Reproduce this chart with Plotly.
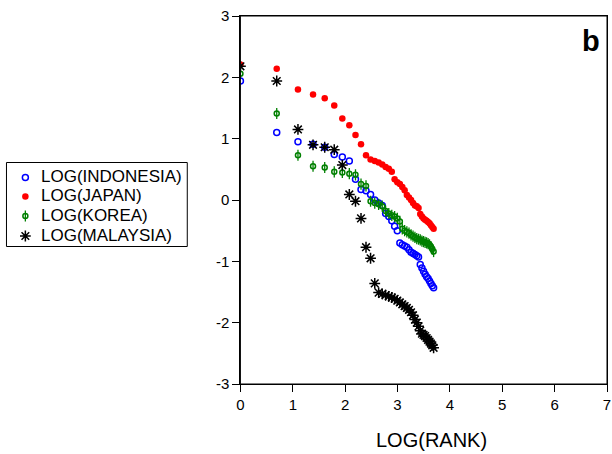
import numpy as np
import plotly.graph_objects as go

ranks = list(range(1, 41))

indonesia = [1.94, 1.10, 0.95, 0.91, 0.86, 0.74, 0.70, 0.635, 0.34, 0.17,
             0.15, 0.09, 0.00, -0.05, -0.09, -0.22, -0.27, -0.34, -0.43, -0.50,
             -0.70, -0.73, -0.75, -0.77, -0.81, -0.85, -0.87, -0.89, -0.91, -0.93,
             -1.05, -1.11, -1.16, -1.21, -1.25, -1.28, -1.32, -1.36, -1.40, -1.43]

japan = [2.21, 2.14, 1.80, 1.72, 1.66, 1.54, 1.33, 1.22, 1.06, 0.91,
         0.73, 0.66, 0.635, 0.61, 0.58, 0.54, 0.51, 0.46, 0.34, 0.29,
         0.26, 0.21, 0.16, 0.08, 0.04, 0.00, -0.05, -0.09, -0.10, -0.13,
         -0.23, -0.27, -0.30, -0.32, -0.34, -0.36, -0.38, -0.41, -0.44, -0.47]

korea = [2.06, 1.41, 0.73, 0.55, 0.53, 0.46, 0.45, 0.43, 0.41, 0.26,
         0.23, -0.02, -0.05, -0.07, -0.10, -0.18, -0.22, -0.25, -0.27, -0.30,
         -0.35, -0.47, -0.50, -0.52, -0.54, -0.57, -0.59, -0.61, -0.63, -0.64,
         -0.65, -0.67, -0.68, -0.69, -0.70, -0.71, -0.73, -0.76, -0.80, -0.84]

malaysia = [2.18, 1.94, 1.15, 0.90, 0.86, 0.82, 0.57, 0.09, -0.02, -0.30,
            -0.77, -0.95, -1.36, -1.51, -1.53, -1.55, -1.57, -1.59, -1.61, -1.64,
            -1.67, -1.70, -1.73, -1.76, -1.79, -1.83, -1.88, -1.95, -2.00, -2.06,
            -2.13, -2.18, -2.20, -2.22, -2.25, -2.28, -2.31, -2.34, -2.37, -2.41]

series_names = ["LOG(INDONESIA)", "LOG(JAPAN)", "LOG(KOREA)", "LOG(MALAYSIA)"]

x_ticks = [0, 1, 2, 3, 4, 5, 6, 7]
y_ticks = [-3, -2, -1, 0, 1, 2, 3]

x = np.log(np.array(ranks, dtype=float))

FONT = "Liberation Sans, Arial, sans-serif"

W, H = 612, 454
ML, MR, MT, MB = 0, 5, 16, 70
PLOT_LEFT = 238  # pixel where main plot starts
PAPER_W = W - ML - MR
PAPER_H = H - MT - MB

styles = {
    "LOG(INDONESIA)": [dict(symbol="circle-open", size=6, color="#0000ff",
                            line=dict(width=1.5, color="#0000ff"))],
    "LOG(JAPAN)": [dict(symbol="circle", size=6.5, color="#ff0000", line=dict(width=0))],
    "LOG(KOREA)": [dict(symbol="circle-open", size=5, color="#008000",
                        line=dict(width=1.5, color="#008000")),
                   dict(symbol="line-ns-open", size=8, color="#008000",
                        line=dict(width=1.3, color="#008000"))],
    "LOG(MALAYSIA)": [dict(symbol="asterisk-open", size=9, color="#000000",
                           line=dict(width=1.5, color="#000000"))],
}
values = {"LOG(INDONESIA)": indonesia, "LOG(JAPAN)": japan,
          "LOG(KOREA)": korea, "LOG(MALAYSIA)": malaysia}

fig = go.Figure()
for name in series_names:
    for m in styles[name]:
        fig.add_trace(go.Scatter(x=x, y=values[name], mode="markers", name=name,
                                 marker=m, showlegend=False, xaxis="x", yaxis="y"))

# Hand-drawn legend in pixel coordinates (axes x2/y2 cover the left margin area)
DX = -4
leg_text_y = [176, 195.5, 215, 235]
leg_mark_y = [177.5, 196.5, 216, 236]
for i, name in enumerate(series_names):
    for m in styles[name]:
        fig.add_trace(go.Scatter(x=[25.5 + DX], y=[leg_mark_y[i]], mode="markers",
                                 marker=m, showlegend=False, hoverinfo="skip",
                                 xaxis="x2", yaxis="y2"))

annotations = []
for i, name in enumerate(series_names):
    annotations.append(dict(text=name, xref="x2", yref="y2", x=39 + DX, y=leg_text_y[i],
                            xanchor="left", yanchor="middle", showarrow=False,
                            font=dict(family=FONT, size=17, color="black")))
annotations.append(dict(text="LOG(RANK)", xref="x domain", yref="y domain",
                        x=(430.7 - PLOT_LEFT) / (W - MR - PLOT_LEFT), y=-0.152,
                        xanchor="center", yanchor="middle", showarrow=False,
                        font=dict(family=FONT, size=20, color="black")))
annotations.append(dict(text="<b>b</b>", xref="x domain", yref="y domain",
                        x=(590.5 - PLOT_LEFT) / (W - MR - PLOT_LEFT),
                        y=(384 - 41.5) / PAPER_H,
                        xanchor="center", yanchor="middle", showarrow=False,
                        font=dict(family=FONT, size=29, color="black")))

shapes = [
    dict(type="rect", xref="x domain", yref="y domain", x0=0, x1=1, y0=0, y1=1,
         line=dict(color="black", width=1), fillcolor="rgba(0,0,0,0)", layer="above"),
    dict(type="rect", xref="x2", yref="y2", x0=6.5 + DX, x1=188.5 + DX, y0=162.5, y1=246.5,
         line=dict(color="black", width=1), fillcolor="rgba(0,0,0,0)", layer="below"),
]

fig.update_layout(
    width=W, height=H,
    margin=dict(l=ML, r=MR, t=MT, b=MB),
    paper_bgcolor="white", plot_bgcolor="white",
    font=dict(family=FONT, size=15, color="black"),
    showlegend=False,
    xaxis=dict(domain=[(PLOT_LEFT - ML) / PAPER_W, 1], range=[0, 7],
               tickvals=x_ticks, ticktext=[str(v) for v in x_ticks],
               showgrid=False, zeroline=False, showline=True, linecolor="black",
               linewidth=1, mirror=True, ticks="outside", ticklen=7, tickcolor="black",
               tickfont=dict(family=FONT, size=15), anchor="y"),
    yaxis=dict(domain=[0, 1], range=[-3, 3], tickvals=y_ticks,
               ticktext=[str(v) for v in y_ticks],
               showgrid=False, zeroline=False, showline=True, linecolor="black",
               linewidth=1, mirror=True, ticks="outside", ticklen=7, tickcolor="black",
               tickfont=dict(family=FONT, size=15), anchor="x"),
    xaxis2=dict(domain=[0, (PLOT_LEFT - ML) / PAPER_W], range=[ML, PLOT_LEFT],
                visible=False, fixedrange=True, anchor="y2"),
    yaxis2=dict(domain=[0, 1], range=[H - MB, MT], visible=False, fixedrange=True,
                anchor="x2"),
    annotations=annotations,
    shapes=shapes,
)

fig.write_html("out.html", config={"displayModeBar": False},
               post_script="document.body.style.margin='0px';")
